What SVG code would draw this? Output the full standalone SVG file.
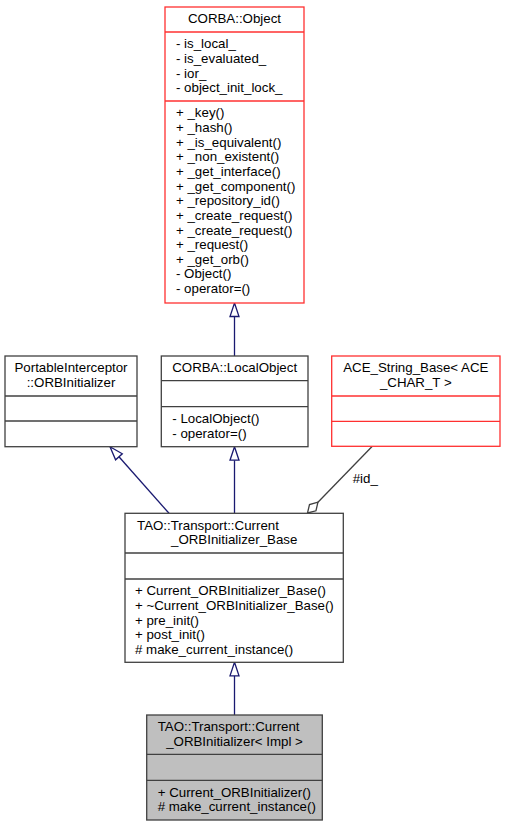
<svg xmlns="http://www.w3.org/2000/svg" width="505" height="827" viewBox="0 0 505 827">
<style>
  text { font-family: "Liberation Sans", Arial, Helvetica, sans-serif; font-size: 13.3px; fill: #000; }
  .c { text-anchor: middle; }
  .box { fill: #ffffff; stroke: #404040; stroke-width: 1.3; }
  .red { fill: #ffffff; stroke: #ff3030; stroke-width: 1.3; }
  .cur { fill: #bfbfbf; stroke: #404040; stroke-width: 1.3; }
  .div { stroke: #404040; stroke-width: 1.3; }
  .divr { stroke: #ff3030; stroke-width: 1.3; }
  .inh { stroke: #191970; stroke-width: 1.3; fill: none; }
  .inhh { stroke: #191970; stroke-width: 1.3; fill: #ffffff; }
  .agg { stroke: #404040; stroke-width: 1.3; fill: none; }
  .aggh { stroke: #404040; stroke-width: 1.3; fill: #ffffff; }
</style>
<rect width="505" height="827" fill="#ffffff"/>

<g id="connectors">
  <!-- LocalObject -> CORBA::Object -->
  <line class="inh" x1="234.5" y1="356" x2="234.5" y2="316.5"/>
  <polygon class="inhh" points="234.5,303 239,316.5 230,316.5"/>
  <!-- Base -> PortableInterceptor -->
  <line class="inh" x1="169" y1="513.3" x2="118.95" y2="456.8"/>
  <polygon class="inhh" points="110,446.7 122.3,453.8 115.6,459.8"/>
  <!-- Base -> LocalObject -->
  <line class="inh" x1="234.5" y1="513.3" x2="234.5" y2="460.2"/>
  <polygon class="inhh" points="234.5,446.7 239,460.2 230,460.2"/>
  <!-- Current -> Base -->
  <line class="inh" x1="234.5" y1="715" x2="234.5" y2="675.8"/>
  <polygon class="inhh" points="234.5,662.3 239,675.8 230,675.8"/>
  <!-- Aggregation ACE_String_Base -> Base -->
  <line class="agg" x1="372.3" y1="446.3" x2="317.95" y2="502.24"/>
  <polygon class="aggh" points="307.5,513 309.5,504.5 317.95,502.24 315.96,510.76"/>
  <text x="352.7" y="483">#id_</text>
</g>

<g id="node-corba-object">
  <rect class="red" x="165" y="7" width="139" height="296"/>
  <line class="divr" x1="165" y1="32" x2="304" y2="32"/>
  <line class="divr" x1="165" y1="101" x2="304" y2="101"/>
  <text class="c" x="234.5" y="23.3">CORBA::Object</text>
  <text x="176" y="48.3">- is_local_</text>
  <text x="176" y="62.95">- is_evaluated_</text>
  <text x="176" y="77.6">- ior_</text>
  <text x="176" y="92.25">- object_init_lock_</text>
  <text x="176" y="117.3">+ _key()</text>
  <text x="176" y="131.95">+ _hash()</text>
  <text x="176" y="146.6">+ _is_equivalent()</text>
  <text x="176" y="161.25">+ _non_existent()</text>
  <text x="176" y="175.9">+ _get_interface()</text>
  <text x="176" y="190.55">+ _get_component()</text>
  <text x="176" y="205.2">+ _repository_id()</text>
  <text x="176" y="219.85">+ _create_request()</text>
  <text x="176" y="234.5">+ _create_request()</text>
  <text x="176" y="249.15">+ _request()</text>
  <text x="176" y="263.8">+ _get_orb()</text>
  <text x="176" y="278.45">- Object()</text>
  <text x="176" y="293.1">- operator=()</text>
</g>

<g id="node-portable-interceptor">
  <rect class="box" x="5" y="356" width="132" height="90.7"/>
  <line class="div" x1="5" y1="396" x2="137" y2="396"/>
  <line class="div" x1="5" y1="421" x2="137" y2="421"/>
  <text class="c" x="71" y="372.3">PortableInterceptor</text>
  <text class="c" x="71" y="387">::ORBInitializer</text>
</g>

<g id="node-local-object">
  <rect class="box" x="161.3" y="356" width="146.7" height="90.7"/>
  <line class="div" x1="161.3" y1="380.7" x2="308" y2="380.7"/>
  <line class="div" x1="161.3" y1="406.7" x2="308" y2="406.7"/>
  <text class="c" x="234.65" y="372.3">CORBA::LocalObject</text>
  <text x="172.3" y="423">- LocalObject()</text>
  <text x="172.3" y="437.7">- operator=()</text>
</g>

<g id="node-ace-string-base">
  <rect class="red" x="331.7" y="356" width="168.3" height="90.3"/>
  <line class="divr" x1="331.7" y1="396" x2="500" y2="396"/>
  <line class="divr" x1="331.7" y1="421.3" x2="500" y2="421.3"/>
  <text class="c" x="415.8" y="372.3">ACE_String_Base&lt; ACE</text>
  <text class="c" x="415.8" y="387">_CHAR_T &gt;</text>
</g>

<g id="node-orbinitializer-base">
  <rect class="box" x="125" y="513.3" width="218.3" height="149"/>
  <line class="div" x1="125" y1="553" x2="343.3" y2="553"/>
  <line class="div" x1="125" y1="579" x2="343.3" y2="579"/>
  <text x="137" y="529.6">TAO::Transport::Current</text>
  <text class="c" x="234.2" y="544.3">_ORBInitializer_Base</text>
  <text x="135" y="595.3">+ Current_ORBInitializer_Base()</text>
  <text x="135" y="609.95">+ ~Current_ORBInitializer_Base()</text>
  <text x="135" y="624.6">+ pre_init()</text>
  <text x="135" y="639.25">+ post_init()</text>
  <text x="135" y="653.9"># make_current_instance()</text>
</g>

<g id="node-orbinitializer-impl">
  <rect class="cur" x="146.7" y="715" width="175.6" height="105"/>
  <line class="div" x1="146.7" y1="754.3" x2="322.3" y2="754.3"/>
  <line class="div" x1="146.7" y1="780.3" x2="322.3" y2="780.3"/>
  <text x="157.7" y="731.3">TAO::Transport::Current</text>
  <text class="c" x="234.5" y="746">_ORBInitializer&lt; Impl &gt;</text>
  <text x="157.7" y="796.6">+ Current_ORBInitializer()</text>
  <text x="157.7" y="811.3"># make_current_instance()</text>
</g>
</svg>
